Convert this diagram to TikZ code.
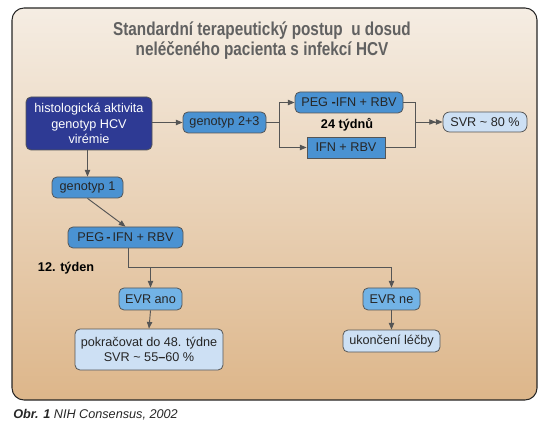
\documentclass[tikz,border=0pt]{standalone}
\usepackage{fontspec}
\setmainfont{Liberation Sans}
\usetikzlibrary{arrows.meta}
\definecolor{hcvdark}{HTML}{2E3A94}
\definecolor{hcvmid}{HTML}{4A92D2}
\definecolor{hcvevr}{HTML}{72B3E6}
\definecolor{hcvlight}{HTML}{CDE0F4}
\definecolor{hcvline}{HTML}{555555}
\definecolor{panetop}{HTML}{F5EDE3}
\definecolor{panebot}{HTML}{DDB68A}
\begin{document}
\begin{tikzpicture}[x=0.75pt,y=0.75pt]
            \tikzstyle{every node}+=[inner sep=0pt, font=\fontsize{9.5}{11.5}\selectfont]
            \tikzstyle{box}=[draw=hcvline, line width=0.6pt, rounded corners=3.75pt, fill=hcvmid, text=black!85, align=center, minimum height=15.75pt]
            \tikzstyle{arr}=[hcvline, line width=0.7pt, -{Triangle[length=5pt,width=4pt]}]
            \tikzstyle{ln}=[hcvline, line width=0.7pt]
            \useasboundingbox (0,0) rectangle (549,-434);
            \shadedraw [top color=panetop, bottom color=panebot, draw=black!85, line width=0.8pt, rounded corners=9pt] (12,-8) rectangle (537,-400);
            \node [font=\fontsize{14}{15}\selectfont\bfseries, text=black!62, align=center, xscale=0.82] (title) at (262,-41) {Standardní terapeutický postup \ u dosud\\neléčeného pacienta s infekcí HCV};
            \node [box, fill=hcvdark, text=white, minimum width=94.5pt, minimum height=39.75pt] (hist) at (89,-123.5) {histologická aktivita\\genotyp HCV\\virémie};
            \node [box, minimum width=62.25pt] (g23) at (224.5,-122.5) {genotyp 2+3};
            \node [box, minimum width=53.25pt] (g1) at (87.5,-187.5) {genotyp 1};
            \node [box, minimum width=81pt] (peg1) at (349,-102.5) {PEG \textbf{-}IFN + RBV};
            \node [box, rounded corners=0pt, minimum width=58.5pt] (ifn) at (346,-147.5) {IFN + RBV};
            \node [box, fill=hcvlight, rounded corners=5pt, minimum width=63pt, minimum height=15pt] (svr) at (485,-122) {SVR \textasciitilde\ 80 \%};
            \node [font=\fontsize{9.5}{11.5}\selectfont\bfseries] (weeks24) at (347,-125) {24 týdnů};
            \node [box, minimum width=86.25pt] (peg2) at (125.5,-237.5) {PEG\,\textbf{-}\,IFN + RBV};
            \node [font=\fontsize{9.5}{11.5}\selectfont\bfseries] (week12) at (66,-268) {12. týden};
            \node [box, fill=hcvevr, minimum width=47.25pt, minimum height=16.5pt] (evrano) at (150.5,-299) {EVR ano};
            \node [box, fill=hcvevr, minimum width=42.75pt, minimum height=16.5pt] (evrne) at (391.5,-299) {EVR ne};
            \node [box, fill=hcvlight, minimum width=111pt, minimum height=30.75pt] (cont) at (149,-349.5) {pokračovat do 48. týdne\\SVR \textasciitilde\ 55\textbf{–}60 \%};
            \node [box, fill=hcvlight, minimum width=72.75pt, minimum height=16.5pt] (stop) at (391.5,-341) {ukončení léčby};
            \node [anchor=base west, font=\fontsize{9.5}{11.5}\selectfont\itshape, text=black!85] (caption) at (13,-418) {\textbf{Obr. 1} NIH Consensus, 2002};
            \coordinate (split) at (279,-122.5);
            \coordinate (join) at (415,-122);
            \coordinate (fork) at (128,-267);
            \draw [arr] (hist.south -| g1.north) -- (g1.north);
            \draw [arr] (hist.east |- g23.west) -- (g23.west);
            \draw [ln] (g23.east) -- (split);
            \draw [arr] (split) |- (peg1.west);
            \draw [arr] (split) |- (ifn.west);
            \draw [ln] (peg1.east) -| (join);
            \draw [ln] (ifn.east) -| (join);
            \draw [hcvline, line width=0.7pt, -{Triangle[length=5pt,width=4pt]Triangle[length=5pt,width=4pt]}] (join) -- (svr.west);
            \draw [arr] (g1.south) -- (peg2.north);
            \draw [arr] (peg2.south -| fork) -- (fork) -| (evrne.north);
            \draw [arr] (fork -| evrano.north) -- (evrano.north);
            \draw [arr] (evrano.south) -- (cont.north);
            \draw [arr] (evrne.south) -- (stop.north);
\end{tikzpicture}
\end{document}
